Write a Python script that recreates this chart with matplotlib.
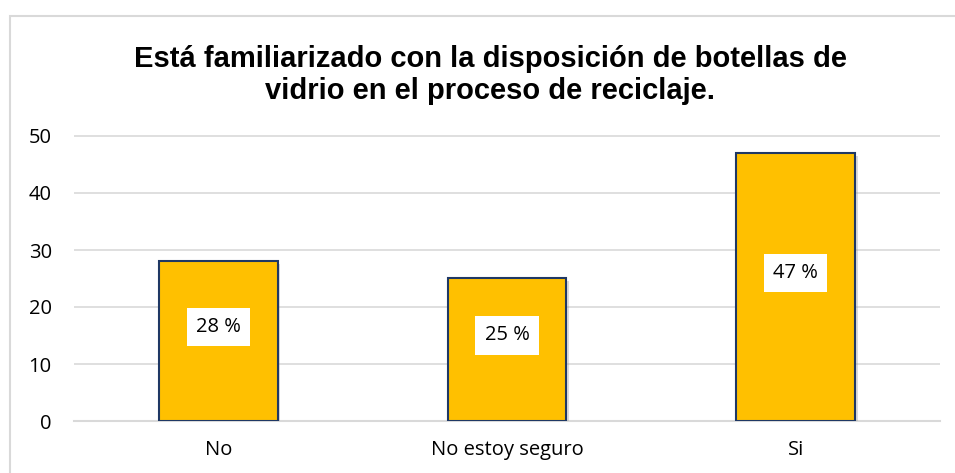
import matplotlib.pyplot as plt
import matplotlib.patheffects as pe
from matplotlib.patches import Rectangle

# data
categories = ['No', 'No estoy seguro', 'Si']
values = [28, 25, 47]
labels = ['28 %', '25 %', '47 %']
title = 'Está familiarizado con la disposición de botellas de\nvidrio en el proceso de reciclaje.'

fig = plt.figure(figsize=(9.55, 4.73), dpi=100)
W, H = 955, 473

# outer chart frame (light grey, runs off the right/bottom edge)
fig.patches.append(Rectangle((10 / W, -0.05), 1.0, (H - 16) / H + 0.05,
                             transform=fig.transFigure, fill=False,
                             edgecolor='#d9d9d9', linewidth=1.5))

ax = fig.add_axes([74 / W, (H - 421) / H, (940 - 74) / W, (421 - 136) / H * 55 / 50])
x = range(len(categories))
bars = ax.bar(x, values, width=0.41, color='#FFC000', edgecolor='#1F3864',
              linewidth=1.5, zorder=3)
for b in bars:
    b.set_path_effects([pe.SimplePatchShadow(offset=(2, -2), shadow_rgbFace='#999999', alpha=0.35),
                        pe.Normal()])

for i, v in enumerate(values):
    ax.text(i, v * 0.5 + 2.5, labels[i], ha='center', va='center', fontsize=14.5,
            family='Open Sans', zorder=4,
            bbox=dict(facecolor='white', edgecolor='none', pad=6.5))

ax.set_xlim(-0.5, 2.5)
ax.set_ylim(0, 55)
ax.set_yticks(range(0, 51, 10))
ax.set_xticks(list(x))
ax.set_xticklabels(categories)
ax.grid(axis='y', color='#d9d9d9', linewidth=1.2, zorder=0)
for s in ['top', 'right', 'left']:
    ax.spines[s].set_visible(False)
ax.spines['bottom'].set_color('#d9d9d9')
ax.spines['bottom'].set_linewidth(1.5)
ax.tick_params(length=0, labelsize=14.5)
ax.tick_params(axis='x', pad=14)
ax.tick_params(axis='y', pad=16)
for t in ax.get_xticklabels() + ax.get_yticklabels():
    t.set_family('Open Sans')

fig.text(490 / W, 1 - 75 / H, title, ha='center', va='center', fontsize=21,
         fontweight='bold', family='Liberation Sans', linespacing=1.2)

fig.savefig('out.png', dpi=100)
